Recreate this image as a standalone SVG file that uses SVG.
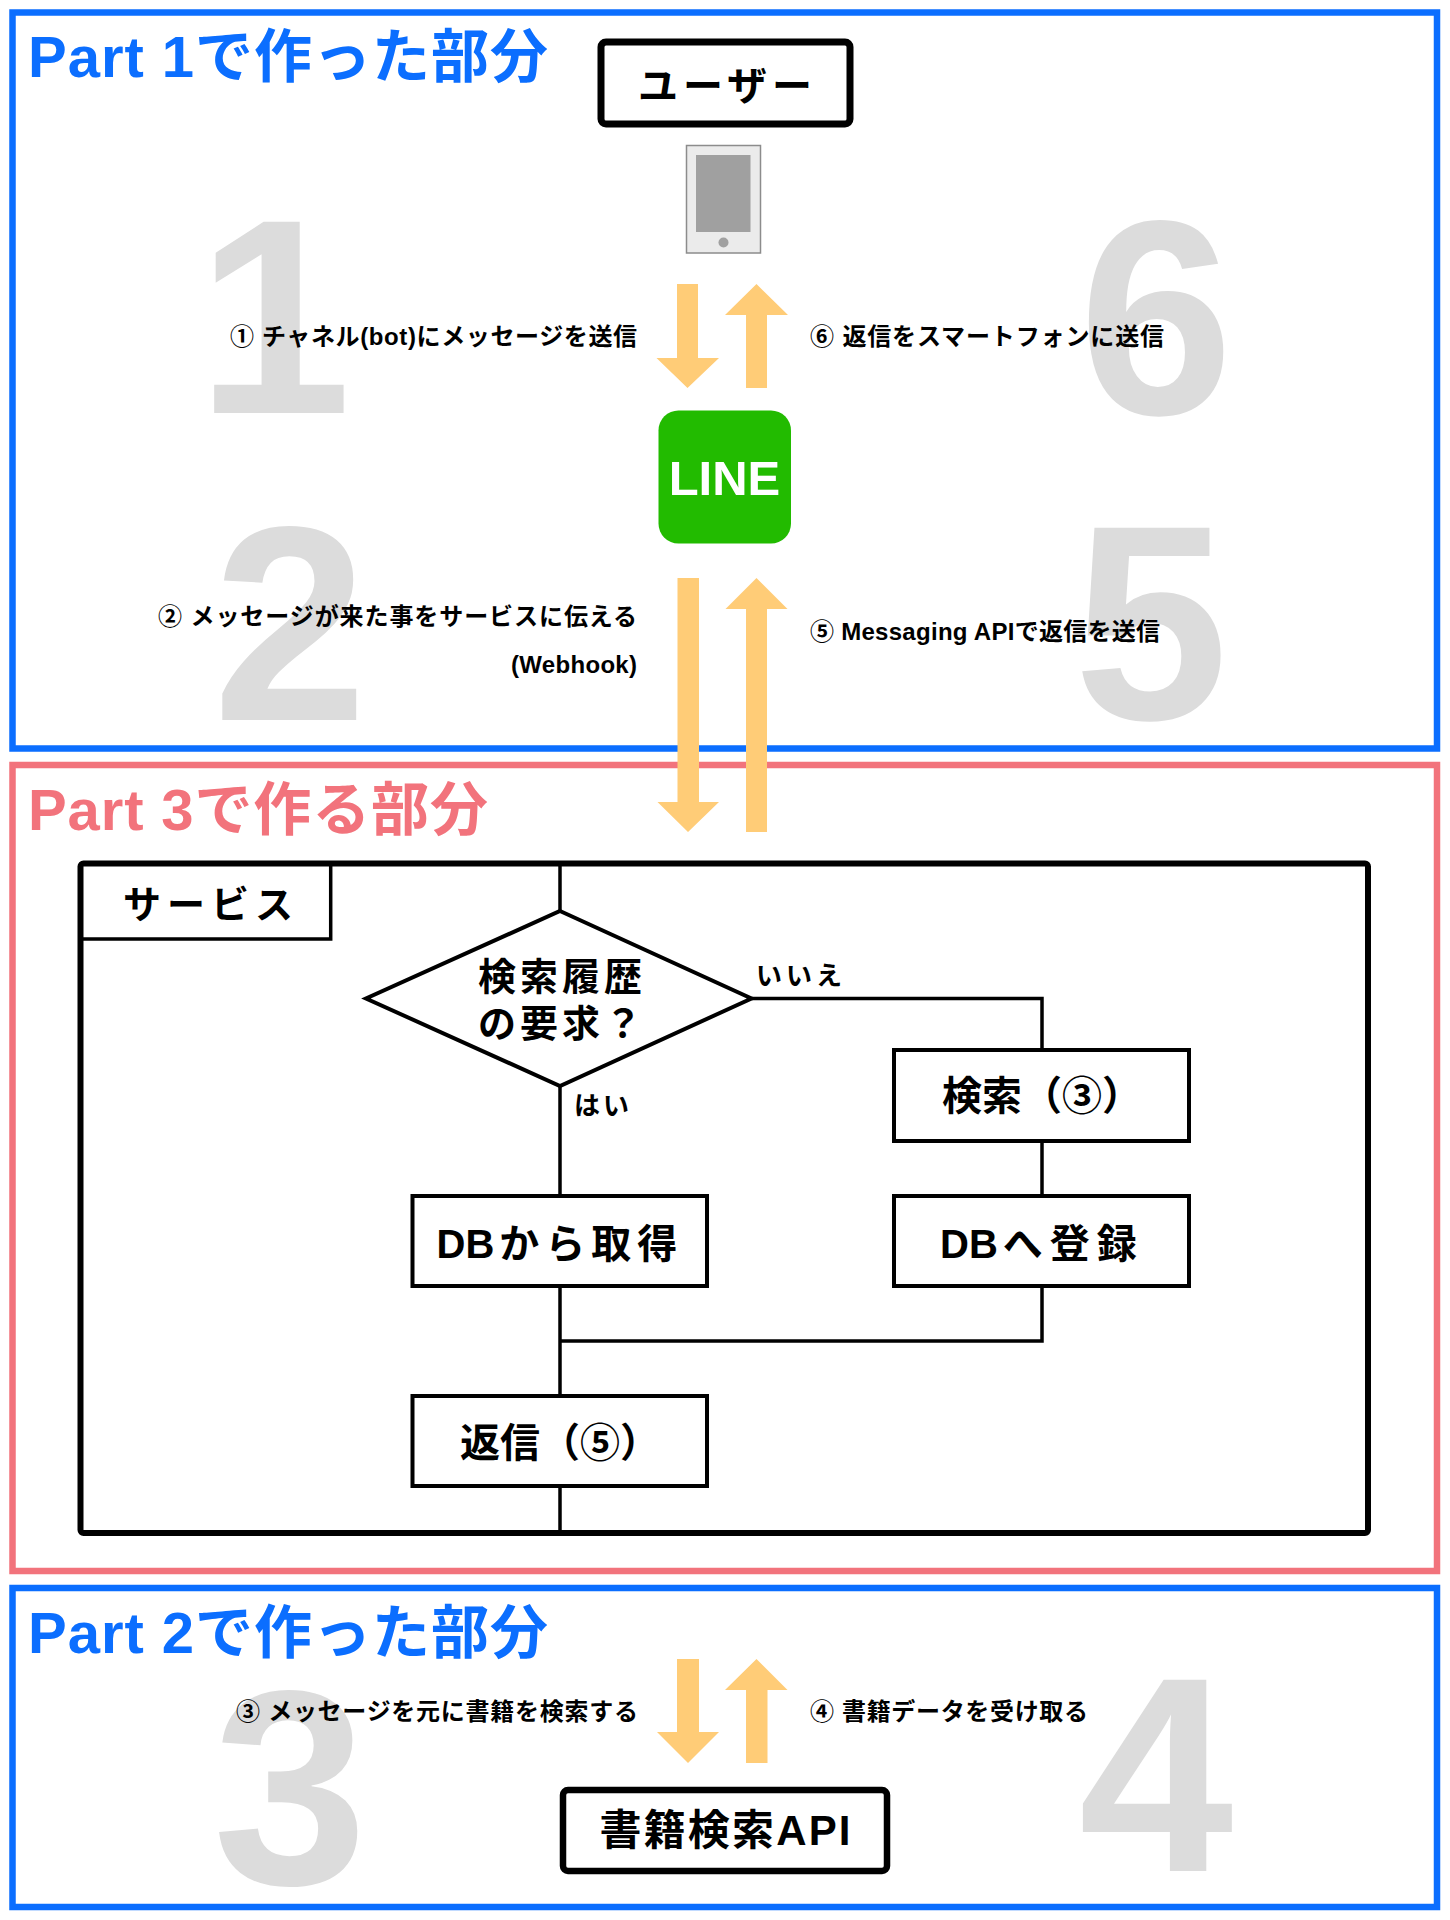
<svg xmlns="http://www.w3.org/2000/svg" width="1450" height="1920" viewBox="0 0 1450 1920">
<style>
text{font-family:"Liberation Sans","Noto Sans CJK JP",sans-serif;font-weight:bold}
.big{font-size:278px;fill:#dcdcdc;text-anchor:middle}
.title{font-size:58px}
.blue{fill:#0b6eff}
.pink{fill:#f2737c}
.lbl{font-size:24px;fill:#000}
.end{text-anchor:end}
.node{font-size:40px;fill:#000;text-anchor:middle}
.nodel{font-size:40px;fill:#000}
.small{font-size:26px;fill:#000}
.section{fill:none;stroke-width:6.5}
.box{fill:#fff;stroke:#000;stroke-width:4}
.flow{fill:none;stroke:#000;stroke-width:3.5}
.arrow{fill:#ffcc77}
</style>
<rect width="1450" height="1920" fill="#fff"/>

<g id="digits">
<text class="big" x="274" y="413">1</text>
<text class="big" x="1156" y="414">6</text>
<text class="big" x="290" y="720">2</text>
<text class="big" x="1151" y="719">5</text>
<text class="big" x="290" y="1884">3</text>
<text class="big" x="1156" y="1871">4</text>
</g>

<g id="part1">
<rect class="section" x="12.5" y="12.5" width="1424.5" height="736" stroke="#0b6eff"/>
<text class="title blue" x="28" y="77" textLength="520">Part 1で作った部分</text>
</g>

<g id="part3">
<rect class="section" x="12.5" y="765" width="1424.5" height="806" stroke="#f2737c"/>
<text class="title pink" x="28" y="830" textLength="460">Part 3で作る部分</text>
</g>

<g id="part2">
<rect class="section" x="12.5" y="1588" width="1424.5" height="319" stroke="#0b6eff"/>
<text class="title blue" x="28" y="1653" textLength="520">Part 2で作った部分</text>
</g>

<g id="user">
<rect x="601" y="42" width="249" height="82" rx="5" fill="#fff" stroke="#000" stroke-width="7"/>
<text class="node" x="725" y="100" textLength="174">ユーザー</text>
</g>

<g id="phone">
<rect x="686.5" y="145.5" width="74" height="107.5" fill="#ebebeb" stroke="#8c8c8c" stroke-width="1.5"/>
<rect x="696" y="155" width="54.5" height="77" fill="#a0a0a0"/>
<circle cx="723.5" cy="242.5" r="5" fill="#a0a0a0"/>
</g>

<g id="line">
<rect x="658.5" y="410.5" width="132.5" height="133" rx="20" fill="#22bb00"/>
<text x="724.5" y="495" font-size="49" fill="#fff" text-anchor="middle">LINE</text>
</g>

<g id="labels">
<text class="lbl end" x="637" y="345" textLength="407">① チャネル(bot)にメッセージを送信</text>
<text class="lbl" x="810" y="345" textLength="354">⑥ 返信をスマートフォンに送信</text>
<text class="lbl end" x="637" y="625" textLength="479">② メッセージが来た事をサービスに伝える</text>
<text class="lbl end" x="637" y="673" textLength="126">(Webhook)</text>
<text class="lbl" x="810" y="640" textLength="350">⑤ Messaging APIで返信を送信</text>
<text class="lbl end" x="638" y="1720" textLength="402">③ メッセージを元に書籍を検索する</text>
<text class="lbl" x="810" y="1720" textLength="278">④ 書籍データを受け取る</text>
</g>

<g id="service">
<rect x="80.5" y="863.5" width="1287.5" height="669.5" rx="3" fill="none" stroke="#000" stroke-width="6"/>
<path d="M80.5,939 H330.7 V863.5" fill="none" stroke="#000" stroke-width="3.5"/>
<text x="208" y="918" font-size="38" fill="#000" text-anchor="middle" textLength="170">サービス</text>
</g>

<g id="connectors">
<path class="flow" d="M560,866 V911"/>
<path class="flow" d="M751.5,998.5 H1042 V1050"/>
<path class="flow" d="M1042,1141 V1196"/>
<path class="flow" d="M560,1086 V1196"/>
<path class="flow" d="M560,1286 V1396"/>
<path class="flow" d="M1042,1286 V1341 H560"/>
<path class="flow" d="M560,1486 V1530"/>
<path class="arrow" d="M677,284 H698 V358 H719 L687.5,388 L656.5,358 H677 Z"/>
<path class="arrow" d="M746,388 V315 H725 L756.5,284 L788,315 H767 V388 Z"/>
<path class="arrow" d="M677.5,578 H699 V802 H719 L688,832 L657.5,802 H677.5 Z"/>
<path class="arrow" d="M746,832 V609 H725.5 L756.5,578 L787.5,609 H767 V832 Z"/>
<path class="arrow" d="M677,1659 H699 V1732 H719 L688,1763 L657,1732 H677 Z"/>
<path class="arrow" d="M746,1763 V1690 H725 L756.5,1659 L787.5,1690 H767.5 V1763 Z"/>
<text class="small" x="756" y="985" letter-spacing="4">いいえ</text>
<text class="small" x="574" y="1115" letter-spacing="3">はい</text>
</g>

<g id="decision">
<polygon points="560,911 751.5,998.5 560,1086 366,998.5" fill="#fff" stroke="#000" stroke-width="4"/>
<text x="562" y="990" font-size="38" fill="#000" text-anchor="middle" letter-spacing="4">検索履歴</text>
<text x="562" y="1037" font-size="38" fill="#000" text-anchor="middle" letter-spacing="4">の要求？</text>
</g>

<g id="search">
<rect class="box" x="894" y="1050" width="295" height="91"/>
<text class="node" x="1042" y="1110" textLength="200">検索（③）</text>
</g>

<g id="register">
<rect class="box" x="894" y="1196" width="295" height="90"/>
<text class="nodel" x="940" y="1258">DB<tspan dx="5" letter-spacing="7">へ登録</tspan></text>
</g>

<g id="fetch">
<rect class="box" x="412.5" y="1196" width="294.5" height="90"/>
<text class="nodel" x="436.5" y="1258">DB<tspan dx="5" letter-spacing="6">から取得</tspan></text>
</g>

<g id="reply">
<rect class="box" x="412.5" y="1396" width="294.5" height="90"/>
<text class="node" x="560" y="1457" textLength="200">返信（⑤）</text>
</g>

<g id="bookapi">
<rect x="563" y="1790" width="324" height="81" rx="5" fill="#fff" stroke="#000" stroke-width="6.5"/>
<text x="725" y="1845" font-size="42" fill="#000" text-anchor="middle" textLength="251">書籍検索API</text>
</g>
</svg>
